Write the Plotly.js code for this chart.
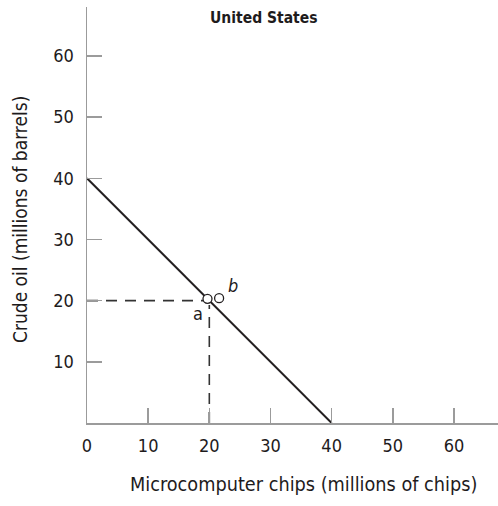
<!DOCTYPE html>
<html>
<head>
<meta charset="utf-8">
<script src="https://cdn.plot.ly/plotly-3.0.1.min.js"></script>
<style>html,body{margin:0;padding:0;background:#fff;}#chart{width:498px;height:506px;}</style>
</head>
<body>
<div id="chart"></div>
<script>
// Production possibilities frontier (United States)
const ppfChips = [0, 40];
const ppfOil = [40, 0];
// Guide lines to point a
const guideHX = [0, 19.2];
const guideHY = [20, 20];
const guideVX = [20, 20];
const guideVY = [0, 19.3];
// Points a and b
const pointChips = [19.7, 21.6];
const pointOil = [20.3, 20.4];
const pointLabels = ['a', 'b'];
// Ticks
const xTicks = [0, 10, 20, 30, 40, 50, 60];
const yTicks = [10, 20, 30, 40, 50, 60];

const FONT = '"DejaVu Sans Condensed", "Liberation Sans", sans-serif';
const TXT = '#1e1b1c';
const AX = '#9b9b9b';

const traces = [
  {x: guideHX, y: guideHY, mode: 'lines', line: {color: '#333', width: 1.6, dash: '11px,8px'}, hoverinfo: 'skip'},
  {x: guideVX, y: guideVY, mode: 'lines', line: {color: '#333', width: 1.6, dash: '11px,8px'}, hoverinfo: 'skip'},
  {x: ppfChips, y: ppfOil, mode: 'lines', line: {color: '#231f20', width: 2}, hoverinfo: 'skip'},
  {x: pointChips, y: pointOil, mode: 'markers',
   marker: {symbol: 'circle', size: 9, color: '#fff', line: {color: '#231f20', width: 1.3}}, hoverinfo: 'skip'}
];

const layout = {
  width: 498, height: 506,
  margin: {l: 87, r: 0, t: 7, b: 83},
  paper_bgcolor: '#fff', plot_bgcolor: '#fff',
  showlegend: false,
  font: {family: FONT, color: TXT, size: 17},
  xaxis: {
    range: [0, 67.2], showgrid: false, zeroline: false,
    showline: true, linecolor: AX, linewidth: 1.5, mirror: false,
    ticks: 'inside', ticklen: 15, tickwidth: 1.5, tickcolor: AX,
    tickmode: 'array', tickvals: xTicks, ticktext: xTicks.map(String),
    tickfont: {family: FONT, size: 18, color: TXT},
    ticklabelstandoff: 6
  },
  yaxis: {
    range: [0, 68], showgrid: false, zeroline: false,
    showline: true, linecolor: AX, linewidth: 1.5,
    ticks: 'inside', ticklen: 15, tickwidth: 1.5, tickcolor: AX,
    tickmode: 'array', tickvals: yTicks, ticktext: yTicks.map(String),
    tickfont: {family: FONT, size: 18, color: TXT},
    ticklabelstandoff: 8
  },
  annotations: [
    {text: '<b>United States</b>', xref: 'paper', yref: 'paper', x: (264-87)/411, y: (506-83-18)/416 , xanchor: 'center', yanchor: 'middle', showarrow: false, font: {family: FONT, size: 15.5, color: TXT}},
    {text: 'Microcomputer chips (millions of chips)', xref: 'paper', yref: 'paper', x: (303-87)/411, y: -(485-423)/416, xanchor: 'center', yanchor: 'middle', showarrow: false, font: {family: FONT, size: 19.7, color: TXT}},
    {text: 'Crude oil (millions of barrels)', xref: 'paper', yref: 'paper', x: -(87-20)/411, y: (423-220)/416, xanchor: 'center', yanchor: 'middle', textangle: -90, showarrow: false, font: {family: FONT, size: 19, color: TXT}},
    {text: pointLabels[0], x: pointChips[0], y: pointOil[0], xref: 'x', yref: 'y', xshift: -9, yshift: -15, showarrow: false, font: {family: FONT, size: 18, color: TXT}},
    {text: '<i>' + pointLabels[1] + '</i>', x: pointChips[1], y: pointOil[1], xref: 'x', yref: 'y', xshift: 14, yshift: 13, showarrow: false, font: {family: FONT, size: 18, color: TXT}}
  ]
};

Plotly.newPlot('chart', traces, layout, {displayModeBar: false, staticPlot: true});
</script>
</body>
</html>
